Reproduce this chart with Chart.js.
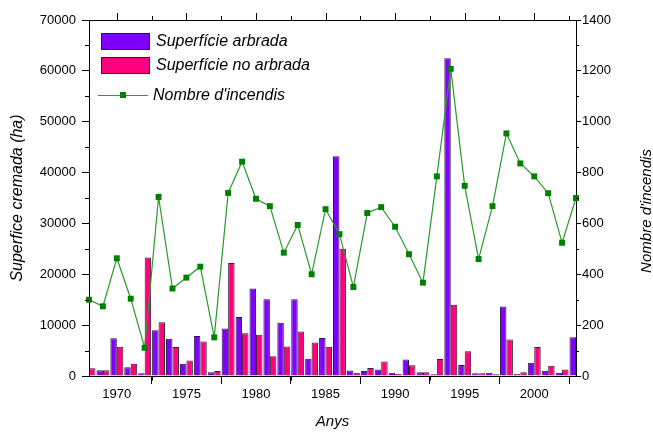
<!DOCTYPE html>
<html>
<head>
<meta charset="utf-8">
<script src="https://cdn.jsdelivr.net/npm/chart.js@4.4.1/dist/chart.umd.min.js"></script>
<style>
html,body{margin:0;padding:0;background:#fff;}
canvas{display:block;}
</style>
</head>
<body>
<canvas id="c" width="653" height="432"></canvas>
<script>
const years = [1968,1969,1970,1971,1972,1973,1974,1975,1976,1977,1978,1979,1980,1981,1982,1983,1984,1985,1986,1987,1988,1989,1990,1991,1992,1993,1994,1995,1996,1997,1998,1999,2000,2001,2002,2003];
const superficieArbrada = [null,1150,7400,1700,520,9000,7300,2400,7850,720,9350,11600,17200,15100,10450,15100,3400,7450,43200,1100,980,1300,650,3250,720,330,62500,2150,520,650,13650,460,2600,1050,650,7600];
const superficieNoArbrada = [1500,1150,5750,2400,23300,10550,5700,3050,6800,980,22200,8400,8100,3900,5800,8750,6600,5750,25000,650,1570,2870,390,2100,720,3320,14000,4850,520,330,7200,720,5700,2020,1300,null];
const nombreIncendis = [300,274,463,304,111,704,344,387,430,152,720,843,697,668,485,594,400,656,558,350,641,664,587,479,367,785,1208,748,460,668,954,836,785,719,524,700];
const xTickValues = [1970,1975,1980,1985,1990,1995,2000];
const xMinorValues = [1967.5,1972.5,1977.5,1982.5,1987.5,1992.5,1997.5,2002.5];
const labels = {
  arbrada: 'Superfície arbrada',
  noArbrada: 'Superfície no arbrada',
  incendis: "Nombre d'incendis",
  yLeft: 'Superfice cremada (ha)',
  yRight: "Nombre d'incendis",
  x: 'Anys'
};

const FONT = "'Liberation Sans', Arial, sans-serif";
const PURPLE = '#7F00FF';
const PINK = '#FF0080';
const GREEN = '#008000';

const extras = {
  id: 'extras',
  afterDraw(chart) {
    const ctx = chart.ctx;
    const a = chart.chartArea;
    const xs = chart.scales.x, yl = chart.scales.y, yr = chart.scales.y1;
    ctx.save();
    ctx.strokeStyle = '#000';
    ctx.lineWidth = 1;
    ctx.beginPath();
    // top frame
    ctx.moveTo(a.left, a.top + 0.5); ctx.lineTo(a.right, a.top + 0.5);
    // top ticks
    xTickValues.forEach(v => { const p = Math.round(xs.getPixelForValue(v)) + 0.5; ctx.moveTo(p, a.top); ctx.lineTo(p, a.top - 7); });
    xMinorValues.forEach(v => { if (v < xs.min || v > xs.max) return; const p = Math.round(xs.getPixelForValue(v)) + 0.5; ctx.moveTo(p, a.top); ctx.lineTo(p, a.top - 4); ctx.moveTo(p, a.bottom); ctx.lineTo(p, a.bottom + 4.5); });
    // left minor
    for (let v = 5000; v < 70000; v += 10000) { const p = Math.round(yl.getPixelForValue(v)) + 0.5; ctx.moveTo(a.left, p); ctx.lineTo(a.left - 4, p); }
    for (let v = 100; v < 1400; v += 200) { const p = Math.round(yr.getPixelForValue(v)) + 0.5; ctx.moveTo(a.right, p); ctx.lineTo(a.right + 3, p); }
    ctx.stroke();

    // right title
    ctx.fillStyle = '#000';
    ctx.font = 'italic 15px ' + FONT;
    ctx.textAlign = 'center';
    ctx.textBaseline = 'middle';
    ctx.translate(647, 211);
    ctx.rotate(-Math.PI / 2);
    ctx.fillText(labels.yRight, 0, 0);
    ctx.restore();

    // legend
    ctx.save();
    ctx.font = 'italic 16px ' + FONT;
    ctx.textAlign = 'left';
    ctx.textBaseline = 'middle';
    const ds = chart.data.datasets;
    ctx.fillStyle = PURPLE; ctx.fillRect(101, 33, 49, 17);
    ctx.strokeStyle = '#222'; ctx.strokeRect(101.5, 33.5, 48, 16);
    ctx.fillStyle = '#000'; ctx.fillText(ds[0].label, 156, 42);
    ctx.fillStyle = PINK; ctx.fillRect(101, 57, 49, 17);
    ctx.strokeStyle = '#222'; ctx.strokeRect(101.5, 57.5, 48, 16);
    ctx.fillStyle = '#000'; ctx.fillText(ds[1].label, 156, 66);
    ctx.strokeStyle = '#2a9a2a'; ctx.lineWidth = 1;
    ctx.beginPath(); ctx.moveTo(98, 95.5); ctx.lineTo(148, 95.5); ctx.stroke();
    ctx.fillStyle = GREEN; ctx.fillRect(120, 92, 6, 6);
    ctx.fillStyle = '#000'; ctx.fillText(ds[2].label, 153, 96);
    ctx.restore();
  }
};

new Chart(document.getElementById('c'), {
  type: 'bar',
  data: {
    labels: years,
    datasets: [
      { type: 'bar', label: labels.arbrada, data: superficieArbrada, backgroundColor: PURPLE, borderColor: 'rgba(20,0,40,0.9)', borderWidth: 1, yAxisID: 'y', order: 2, clip: 0, categoryPercentage: 0.93, barPercentage: 1.0 },
      { type: 'bar', label: labels.noArbrada, data: superficieNoArbrada, backgroundColor: PINK, borderColor: 'rgba(40,0,20,0.9)', borderWidth: 1, yAxisID: 'y', order: 2, clip: 0, categoryPercentage: 0.93, barPercentage: 1.0 },
      { type: 'line', label: labels.incendis, data: nombreIncendis, borderColor: '#2a9a2a', borderWidth: 1.2, pointStyle: 'rect', pointRadius: 4.2, pointBackgroundColor: GREEN, pointBorderColor: GREEN, pointBorderWidth: 0, tension: 0, yAxisID: 'y1', order: 0, clip: false }
    ]
  },
  options: {
    responsive: false,
    animation: false,
    layout: { padding: { top: 20, left: 0, right: 0, bottom: 0 } },
    plugins: { legend: { display: false }, tooltip: { enabled: false } },
    scales: {
      x: {
        type: 'linear', min: 1968, max: 2003, offset: false,
        afterBuildTicks: s => { s.ticks = xTickValues.map(v => ({ value: v })); },
        afterFit: s => { s.height = 56; },
        ticks: { font: { family: FONT, size: 13 }, color: '#000', padding: 3, callback: v => String(v), maxRotation: 0, autoSkip: false },
        grid: { display: true, drawOnChartArea: false, drawTicks: true, tickLength: 8, color: '#000' },
        border: { display: true, color: '#000', width: 1 },
        title: { display: true, text: labels.x, font: { family: FONT, size: 15, style: 'italic' }, color: '#000', padding: { top: 0, bottom: 1 } }
      },
      y: {
        position: 'left', min: 0, max: 70000,
        afterBuildTicks: s => { const t = []; for (let v = 0; v <= 70000; v += 10000) t.push({ value: v }); s.ticks = t; },
        afterFit: s => { s.width = 89; },
        ticks: { font: { family: FONT, size: 13 }, color: '#000', padding: 6, callback: v => String(v) },
        grid: { display: true, drawOnChartArea: false, drawTicks: true, tickLength: 7, color: '#000' },
        border: { display: true, color: '#000', width: 1 },
        title: { display: true, text: labels.yLeft, font: { family: FONT, size: 16, style: 'italic' }, color: '#000', padding: { top: 8, bottom: 0 } }
      },
      y1: {
        position: 'right', min: 0, max: 1400,
        afterBuildTicks: s => { const t = []; for (let v = 0; v <= 1400; v += 200) t.push({ value: v }); s.ticks = t; },
        afterFit: s => { s.width = 77; },
        ticks: { font: { family: FONT, size: 13 }, color: '#000', padding: 1, callback: v => String(v) },
        grid: { display: true, drawOnChartArea: false, drawTicks: true, tickLength: 5, color: '#000' },
        border: { display: true, color: '#000', width: 1 }
      }
    }
  },
  plugins: [extras]
});
</script>
</body>
</html>
